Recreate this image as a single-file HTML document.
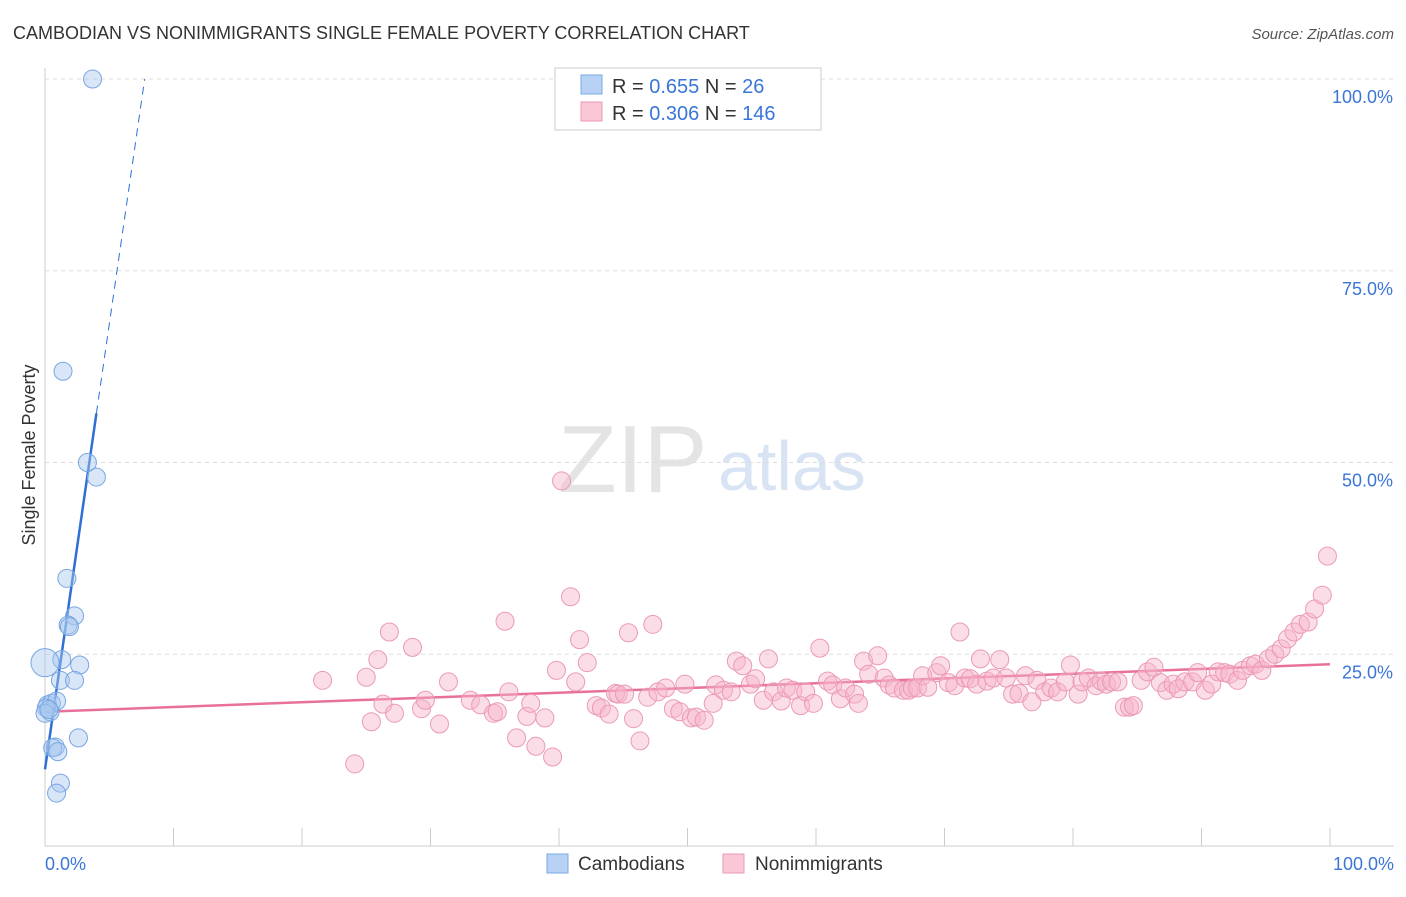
<!DOCTYPE html>
<html><head><meta charset="utf-8"><style>
body{margin:0;background:#fff;font-family:"Liberation Sans",sans-serif;}
svg text{font-family:"Liberation Sans",sans-serif;}
</style></head><body>
<svg id="chart" width="1406" height="892">
<text x="13" y="39" font-size="18" fill="#333">CAMBODIAN VS NONIMMIGRANTS SINGLE FEMALE POVERTY CORRELATION CHART</text>
<text x="1394" y="39" font-size="15" fill="#555" font-style="italic" text-anchor="end">Source: ZipAtlas.com</text>
<text x="35" y="455" font-size="18" fill="#333" text-anchor="middle" transform="rotate(-90 35 455)">Single Female Poverty</text>
<text x="558" y="492" font-size="96" fill="#e4e4e4" font-family="Liberation Serif">ZIP</text>
<text x="718" y="490" font-size="70" fill="#d8e4f4">atlas</text>
<g id="grid"></g><g id="ticks"></g><g id="lines"></g><g id="pts"></g>
<g>
<rect x="555" y="68" width="266" height="62" fill="#fff" stroke="#ccc"/>
<rect x="581" y="75" width="21" height="19" fill="#b7d2f5" stroke="#7aa9e6"/>
<rect x="581" y="102" width="21" height="19" fill="#fac7d6" stroke="#ee9ab5"/>
<text x="612" y="93" font-size="20" fill="#333">R = <tspan fill="#3a76d8">0.655</tspan>   N =   <tspan fill="#3a76d8">26</tspan></text>
<text x="612" y="120" font-size="20" fill="#333">R = <tspan fill="#3a76d8">0.306</tspan>   N = <tspan fill="#3a76d8">146</tspan></text>
</g>
<g>
<rect x="547" y="854" width="21" height="19" fill="#b7d2f5" stroke="#7aa9e6"/>
<text x="578" y="870" font-size="19" fill="#333">Cambodians</text>
<rect x="723" y="854" width="21" height="19" fill="#fac7d6" stroke="#ee9ab5"/>
<text x="755" y="870" font-size="19" fill="#333">Nonimmigrants</text>
</g>
</svg>
<script>
const yTicks=[25,50,75,100];
const yTickLabels=["25.0%","50.0%","75.0%","100.0%"];
const xTickLabels=["0.0%","100.0%"];
const blueX=[3.7,1.4,3.3,4.0,1.7,2.3,1.8,1.9,2.7,1.3,1.2,2.3,0,0.2,0.5,0.9,0.4,0.1,0.8,0.6,1.0,2.6,1.2,0.9,0,0.3];
const blueY=[100,61.9,50.0,48.1,34.9,30.0,28.8,28.6,23.6,24.3,21.6,21.6,23.9,18.4,18.6,18.9,17.5,18.0,12.9,12.8,12.3,14.1,8.2,6.9,17.3,17.8];
const pinkX=[21.6,24.1,25.0,25.4,25.9,26.3,26.8,27.2,28.6,29.3,29.6,30.7,31.4,33.1,33.9,34.9,35.2,35.8,36.1,36.7,37.5,37.8,38.2,38.9,39.5,39.8,40.2,40.9,41.3,41.6,42.2,42.9,43.3,43.9,44.4,44.6,45.1,45.4,45.8,46.3,46.9,47.3,47.7,48.3,48.9,49.4,49.8,50.3,50.7,51.3,52.0,52.2,52.8,53.4,53.8,54.3,54.9,55.3,55.9,56.3,56.7,57.3,57.7,58.2,58.8,59.2,59.8,60.3,60.9,61.3,61.9,62.3,63.0,63.3,63.7,64.1,64.8,65.3,65.7,66.1,66.8,67.2,67.5,67.9,68.3,68.7,69.4,69.7,70.3,70.8,71.2,71.6,72.0,72.5,72.8,73.3,73.8,74.3,74.8,75.3,75.8,76.3,76.8,77.2,77.8,78.3,78.8,79.4,79.8,80.4,80.7,81.2,81.8,82.2,82.6,83.0,83.5,84.0,84.4,84.7,85.3,85.8,86.3,86.8,87.3,87.8,88.2,88.7,89.3,89.7,90.3,90.8,91.3,91.8,92.2,92.8,93.2,93.8,94.2,94.7,95.2,95.7,96.2,96.7,97.2,97.7,98.3,98.8,99.4,99.8];
const pinkY=[21.6,10.7,22.0,16.2,24.3,18.5,27.9,17.3,25.9,17.9,19.0,15.9,21.4,19.0,18.4,17.3,17.5,29.3,20.1,14.1,16.9,18.6,13.0,16.7,11.6,22.9,47.6,32.5,21.4,26.9,23.9,18.3,18.0,17.2,19.9,19.8,19.8,27.8,16.6,13.7,19.4,28.9,20.1,20.6,17.9,17.5,21.1,16.7,16.8,16.4,18.6,21.0,20.3,20.1,24.1,23.5,21.1,21.8,19.0,24.4,20.1,18.9,20.6,20.3,18.3,20.1,18.6,25.8,21.5,21.0,19.2,20.6,19.8,18.6,24.1,22.4,24.8,21.9,21.0,20.6,20.3,20.3,20.6,20.6,22.2,20.7,22.6,23.5,21.3,20.9,27.9,21.9,21.8,21.1,24.4,21.5,21.9,24.3,21.9,19.8,19.9,22.2,18.8,21.6,20.1,20.6,20.1,21.4,23.6,19.8,21.4,21.9,20.9,21.5,21.1,21.4,21.4,18.1,18.1,18.3,21.6,22.7,23.3,21.3,20.3,21.1,20.5,21.4,21.4,22.6,20.3,21.1,22.7,22.6,22.4,21.6,22.9,23.5,23.7,22.9,24.4,25.0,25.7,27.0,27.9,28.9,29.2,30.9,32.7,37.8];
const blueFit=[10.0,11.6];
const pinkFit=[17.5,23.7];
const X=v=>45+v*12.85, Y=v=>846-v*7.67;
const NS="http://www.w3.org/2000/svg";
function mk(t,a,p){const e=document.createElementNS(NS,t);for(const k in a)e.setAttribute(k,a[k]);p.appendChild(e);return e;}
const grid=document.getElementById('grid'),ticks=document.getElementById('ticks'),lines=document.getElementById('lines'),pts=document.getElementById('pts');
yTicks.forEach((t,i)=>{
const g=mk('line',{x1:45,x2:1394,y1:Y(t),y2:Y(t),stroke:'#ddd','stroke-dasharray':'4,4'},grid);


const l=mk('text',{x:1393,y:Y(t)+24,'font-size':18,fill:'#3a76d8','text-anchor':'end'},ticks);
l.textContent=yTickLabels[i];


});
const ax=mk('line',{x1:45,x2:1394,y1:846,y2:846,stroke:'#ccc'},ticks);


const ay=mk('line',{x1:45,x2:45,y1:68,y2:846,stroke:'#ccc'},ticks);


for(let i=1;i<=10;i++){
const tk=mk('line',{x1:X(i*10),x2:X(i*10),y1:828,y2:846,stroke:'#ccc'},ticks);


}
[[0,'start',45],[100,'end',1394]].forEach((d,i)=>{
const l=mk('text',{x:d[2],y:870,'font-size':18,fill:'#3a76d8','text-anchor':d[1]},ticks);
l.textContent=xTickLabels[i];


});
pinkX.forEach((x,i)=>{
const c=mk('circle',{cx:X(x),cy:Y(pinkY[i]),r:9,fill:'rgba(246,180,202,0.45)',stroke:'#eb9ab5','stroke-width':1},pts);


});
blueX.forEach((x,i)=>{
const c=mk('circle',{cx:X(x),cy:Y(blueY[i]),r:i==12?14:9,fill:'rgba(168,200,240,0.45)',stroke:'#78a6e2','stroke-width':1},pts);


});
const xe=(100-blueFit[0])/blueFit[1];
const b1=mk('line',{x1:X(0),y1:Y(blueFit[0]),x2:X(4),y2:Y(blueFit[0]+4*blueFit[1]),stroke:'#2f6fd6','stroke-width':2.5},lines);


const b2=mk('line',{x1:X(4),y1:Y(blueFit[0]+4*blueFit[1]),x2:X(xe),y2:Y(100),stroke:'#2f6fd6','stroke-width':1,'stroke-dasharray':'8,6'},lines);


const p1=mk('line',{x1:X(0),y1:Y(pinkFit[0]),x2:X(100),y2:Y(pinkFit[1]),stroke:'#e8709a','stroke-width':2.5},lines);


</script>
</body></html>
